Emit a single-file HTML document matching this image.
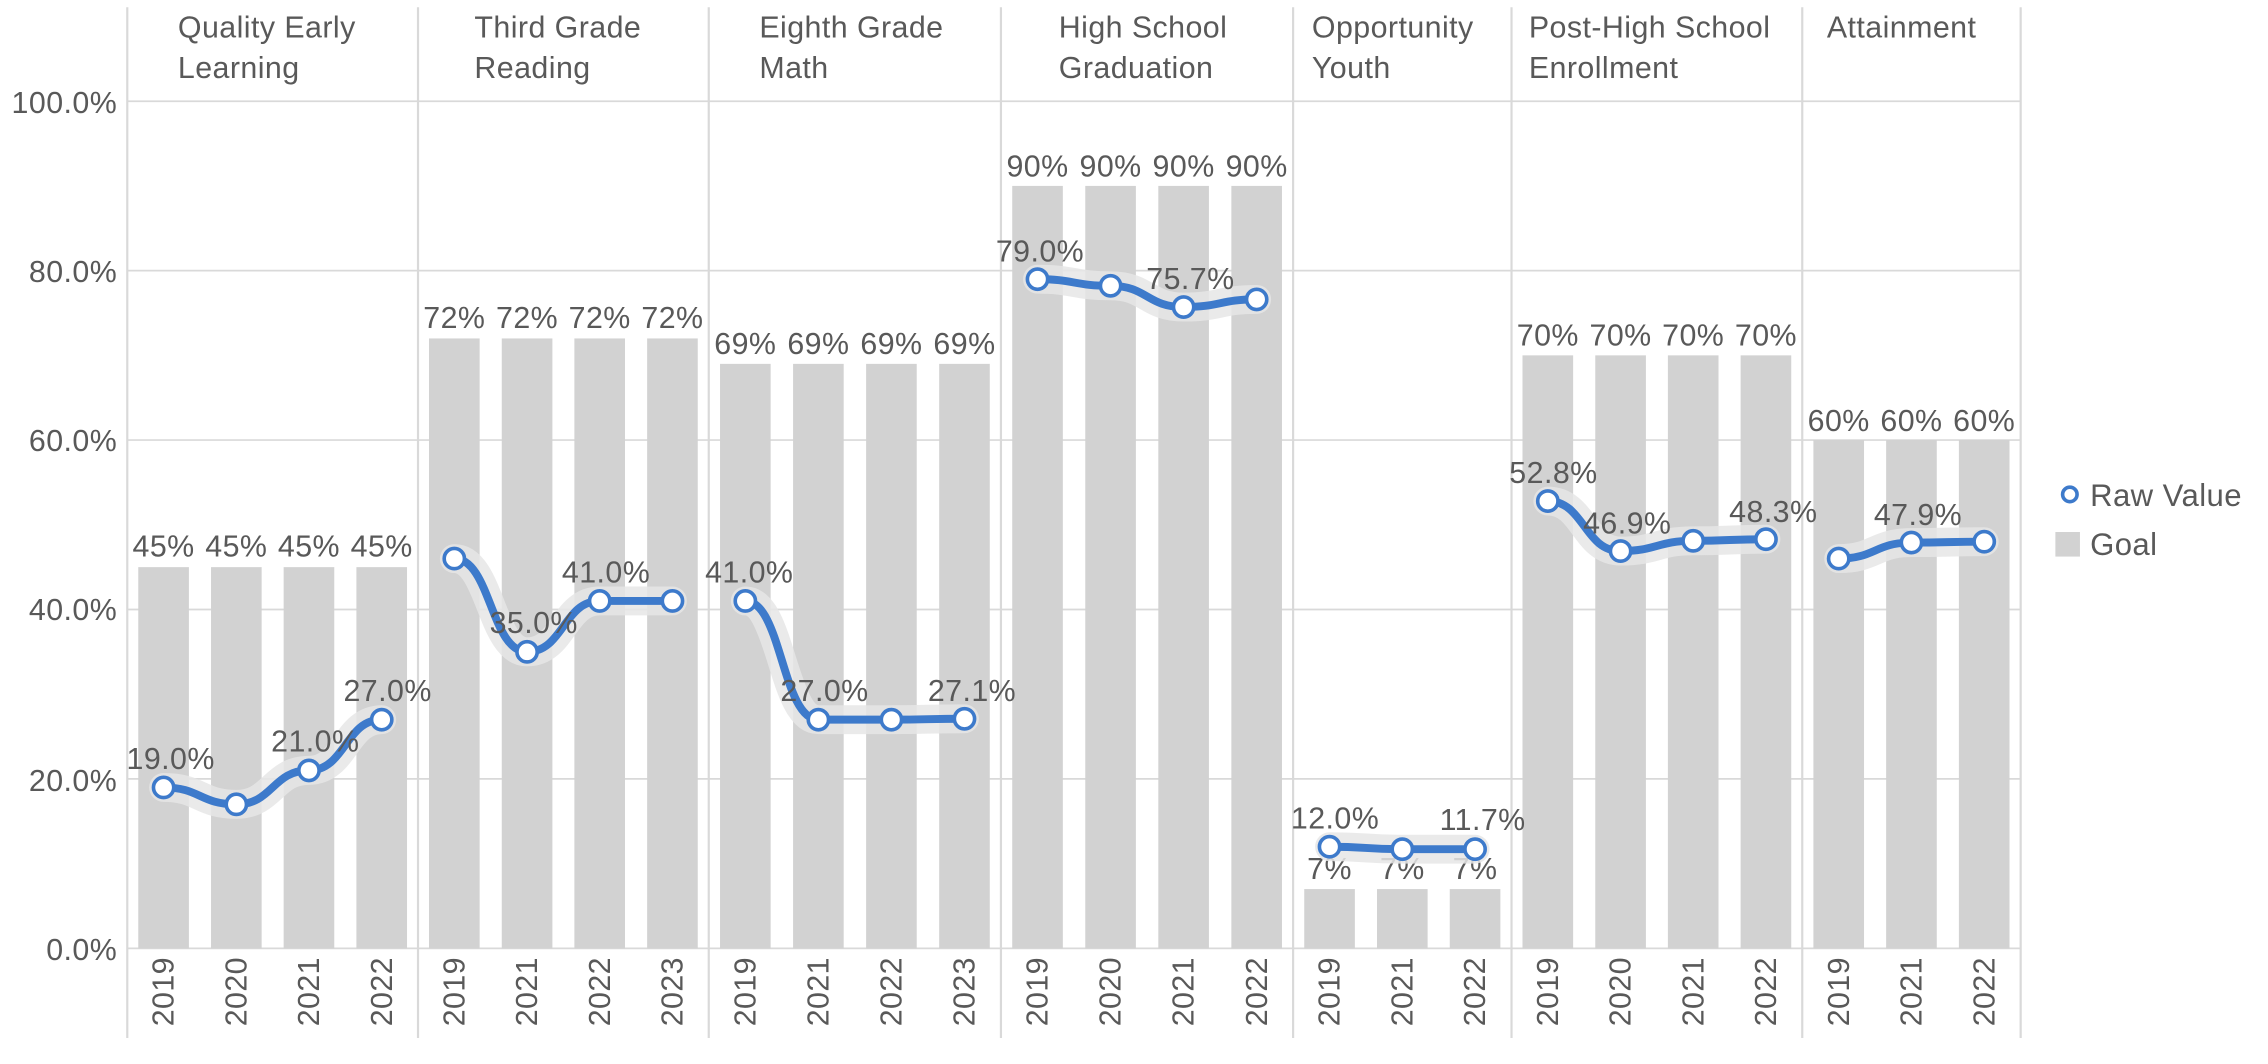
<!DOCTYPE html>
<html><head><meta charset="utf-8"><style>
html,body{margin:0;padding:0;background:#fff;width:2268px;height:1064px;overflow:hidden}
svg{display:block}
text{font-family:"Liberation Sans",sans-serif;fill:#595959;font-size:21px;letter-spacing:0.3px}
.b{fill:#d2d2d2}
.g{stroke:#d9d9d9;stroke-width:1.2}
.h{fill:none;stroke:#e6e6e6;stroke-opacity:.85;stroke-width:20;stroke-linecap:round}
.l{fill:none;stroke:#3d7acb;stroke-width:5.5}
.m{fill:#fff;stroke:#3d7acb;stroke-width:2.5}
.c{text-anchor:middle}
.e{text-anchor:end}
.t{font-size:21.5px}
</style></head><body>
<svg width="2268" height="1064" viewBox="0 0 1568 736" preserveAspectRatio="none" xmlns="http://www.w3.org/2000/svg">
<g class="g">
<line x1="88" x2="1397" y1="70" y2="70"/><line x1="88" x2="1397" y1="187.2" y2="187.2"/><line x1="88" x2="1397" y1="304.4" y2="304.4"/><line x1="88" x2="1397" y1="421.6" y2="421.6"/><line x1="88" x2="1397" y1="538.8" y2="538.8"/><line x1="88" x2="1397" y1="656" y2="656"/>
</g>
<g class="e">
<text x="81" y="78">100.0%</text><text x="81" y="195">80.0%</text><text x="81" y="312">60.0%</text><text x="81" y="429">40.0%</text><text x="81" y="547">20.0%</text><text x="81" y="664">0.0%</text>
</g>
<g class="t">
<text x="123" y="26">Quality Early</text><text x="123" y="54">Learning</text>
<text x="328" y="26">Third Grade</text><text x="328" y="54">Reading</text>
<text x="525" y="26">Eighth Grade</text><text x="525" y="54">Math</text>
<text x="732" y="26">High School</text><text x="732" y="54">Graduation</text>
<text x="907" y="26">Opportunity</text><text x="907" y="54">Youth</text>
<text x="1057" y="26">Post-High School</text><text x="1057" y="54">Enrollment</text>
<text x="1263" y="26">Attainment</text>
</g>
<g class="b">
<rect x="95.6" y="392.3" width="35" height="263.7"/><rect x="145.9" y="392.3" width="35" height="263.7"/><rect x="196.1" y="392.3" width="35" height="263.7"/><rect x="246.4" y="392.3" width="35" height="263.7"/>
<rect x="296.6" y="234.1" width="35" height="421.9"/><rect x="346.9" y="234.1" width="35" height="421.9"/><rect x="397.1" y="234.1" width="35" height="421.9"/><rect x="447.4" y="234.1" width="35" height="421.9"/>
<rect x="497.8" y="251.7" width="35" height="404.3"/><rect x="548.3" y="251.7" width="35" height="404.3"/><rect x="598.8" y="251.7" width="35" height="404.3"/><rect x="649.3" y="251.7" width="35" height="404.3"/>
<rect x="699.8" y="128.6" width="35" height="527.4"/><rect x="750.3" y="128.6" width="35" height="527.4"/><rect x="800.8" y="128.6" width="35" height="527.4"/><rect x="851.3" y="128.6" width="35" height="527.4"/>
<rect x="901.7" y="615" width="35" height="41"/><rect x="952" y="615" width="35" height="41"/><rect x="1002.3" y="615" width="35" height="41"/>
<rect x="1052.6" y="245.8" width="35" height="410.2"/><rect x="1102.9" y="245.8" width="35" height="410.2"/><rect x="1153.1" y="245.8" width="35" height="410.2"/><rect x="1203.4" y="245.8" width="35" height="410.2"/>
<rect x="1253.7" y="304.4" width="35" height="351.6"/><rect x="1304" y="304.4" width="35" height="351.6"/><rect x="1354.3" y="304.4" width="35" height="351.6"/>
</g>
<g class="c">
<text x="113.1" y="385">45%</text><text x="163.4" y="385">45%</text><text x="213.6" y="385">45%</text><text x="263.9" y="385">45%</text>
<text x="314.1" y="227">72%</text><text x="364.4" y="227">72%</text><text x="414.6" y="227">72%</text><text x="464.9" y="227">72%</text>
<text x="515.3" y="245">69%</text><text x="565.8" y="245">69%</text><text x="616.3" y="245">69%</text><text x="666.8" y="245">69%</text>
<text x="717.3" y="122">90%</text><text x="767.8" y="122">90%</text><text x="818.3" y="122">90%</text><text x="868.8" y="122">90%</text>
<text x="919.2" y="608">7%</text><text x="969.5" y="608">7%</text><text x="1019.8" y="608">7%</text>
<text x="1070.1" y="239">70%</text><text x="1120.4" y="239">70%</text><text x="1170.6" y="239">70%</text><text x="1220.9" y="239">70%</text>
<text x="1271.2" y="298">60%</text><text x="1321.5" y="298">60%</text><text x="1371.8" y="298">60%</text>
</g>
<g class="e">
<text transform="translate(120,662) rotate(-90)">2019</text><text transform="translate(170.4,662) rotate(-90)">2020</text><text transform="translate(220.6,662) rotate(-90)">2021</text><text transform="translate(270.9,662) rotate(-90)">2022</text>
<text transform="translate(321.1,662) rotate(-90)">2019</text><text transform="translate(371.4,662) rotate(-90)">2021</text><text transform="translate(421.6,662) rotate(-90)">2022</text><text transform="translate(471.9,662) rotate(-90)">2023</text>
<text transform="translate(522.3,662) rotate(-90)">2019</text><text transform="translate(572.8,662) rotate(-90)">2021</text><text transform="translate(623.3,662) rotate(-90)">2022</text><text transform="translate(673.8,662) rotate(-90)">2023</text>
<text transform="translate(724.3,662) rotate(-90)">2019</text><text transform="translate(774.8,662) rotate(-90)">2020</text><text transform="translate(825.3,662) rotate(-90)">2021</text><text transform="translate(875.8,662) rotate(-90)">2022</text>
<text transform="translate(926.2,662) rotate(-90)">2019</text><text transform="translate(976.5,662) rotate(-90)">2021</text><text transform="translate(1026.8,662) rotate(-90)">2022</text>
<text transform="translate(1077.1,662) rotate(-90)">2019</text><text transform="translate(1127.4,662) rotate(-90)">2020</text><text transform="translate(1177.6,662) rotate(-90)">2021</text><text transform="translate(1227.9,662) rotate(-90)">2022</text>
<text transform="translate(1278.2,662) rotate(-90)">2019</text><text transform="translate(1328.5,662) rotate(-90)">2021</text><text transform="translate(1378.8,662) rotate(-90)">2022</text>
</g>
<g class="g" style="stroke-width:1.5">
<line x1="88" x2="88" y1="5" y2="718"/><line x1="289" x2="289" y1="5" y2="718"/><line x1="490" x2="490" y1="5" y2="718"/><line x1="692" x2="692" y1="5" y2="718"/><line x1="894" x2="894" y1="5" y2="718"/><line x1="1045" x2="1045" y1="5" y2="718"/><line x1="1246" x2="1246" y1="5" y2="718"/><line x1="1397" x2="1397" y1="5" y2="718"/>
</g>
<g class="h">
<path d="M113.1,544.7 C138.2,544.7 138.3,556.4 163.4,556.4 C188.5,556.4 188.5,532.9 213.6,532.9 C238.7,532.9 238.8,497.8 263.9,497.8"/>
<path d="M314.1,386.4 C339.2,386.4 339.3,450.9 364.4,450.9 C389.5,450.9 389.5,415.7 414.6,415.7 C439.7,415.7 439.8,415.7 464.9,415.7"/>
<path d="M515.3,415.7 C540.5,415.7 540.6,497.8 565.8,497.8 C591,497.8 591.1,497.8 616.3,497.8 C641.5,497.8 641.6,497.2 666.8,497.2"/>
<path d="M717.3,193.1 C742.5,193.1 742.6,197.7 767.8,197.7 C793,197.7 793.1,212.4 818.3,212.4 C843.5,212.4 843.6,207.1 868.8,207.1"/>
<path d="M919.2,585.7 C944.3,585.7 944.4,587.4 969.5,587.4 C994.6,587.4 994.7,587.4 1019.8,587.4"/>
<path d="M1070.1,346.6 C1095.2,346.6 1095.3,381.2 1120.4,381.2 C1145.5,381.2 1145.5,374.1 1170.6,374.1 C1195.7,374.1 1195.8,373 1220.9,373"/>
<path d="M1271.2,386.4 C1296.3,386.4 1296.4,375.3 1321.5,375.3 C1346.6,375.3 1346.7,374.7 1371.8,374.7"/>
</g>
<g class="l">
<path d="M113.1,544.7 C138.2,544.7 138.3,556.4 163.4,556.4 C188.5,556.4 188.5,532.9 213.6,532.9 C238.7,532.9 238.8,497.8 263.9,497.8"/>
<path d="M314.1,386.4 C339.2,386.4 339.3,450.9 364.4,450.9 C389.5,450.9 389.5,415.7 414.6,415.7 C439.7,415.7 439.8,415.7 464.9,415.7"/>
<path d="M515.3,415.7 C540.5,415.7 540.6,497.8 565.8,497.8 C591,497.8 591.1,497.8 616.3,497.8 C641.5,497.8 641.6,497.2 666.8,497.2"/>
<path d="M717.3,193.1 C742.5,193.1 742.6,197.7 767.8,197.7 C793,197.7 793.1,212.4 818.3,212.4 C843.5,212.4 843.6,207.1 868.8,207.1"/>
<path d="M919.2,585.7 C944.3,585.7 944.4,587.4 969.5,587.4 C994.6,587.4 994.7,587.4 1019.8,587.4"/>
<path d="M1070.1,346.6 C1095.2,346.6 1095.3,381.2 1120.4,381.2 C1145.5,381.2 1145.5,374.1 1170.6,374.1 C1195.7,374.1 1195.8,373 1220.9,373"/>
<path d="M1271.2,386.4 C1296.3,386.4 1296.4,375.3 1321.5,375.3 C1346.6,375.3 1346.7,374.7 1371.8,374.7"/>
</g>
<g class="m">
<circle cx="113.1" cy="544.7" r="7"/><circle cx="163.4" cy="556.4" r="7"/><circle cx="213.6" cy="532.9" r="7"/><circle cx="263.9" cy="497.8" r="7"/>
<circle cx="314.1" cy="386.4" r="7"/><circle cx="364.4" cy="450.9" r="7"/><circle cx="414.6" cy="415.7" r="7"/><circle cx="464.9" cy="415.7" r="7"/>
<circle cx="515.3" cy="415.7" r="7"/><circle cx="565.8" cy="497.8" r="7"/><circle cx="616.3" cy="497.8" r="7"/><circle cx="666.8" cy="497.2" r="7"/>
<circle cx="717.3" cy="193.1" r="7"/><circle cx="767.8" cy="197.7" r="7"/><circle cx="818.3" cy="212.4" r="7"/><circle cx="868.8" cy="207.1" r="7"/>
<circle cx="919.2" cy="585.7" r="7"/><circle cx="969.5" cy="587.4" r="7"/><circle cx="1019.8" cy="587.4" r="7"/>
<circle cx="1070.1" cy="346.6" r="7"/><circle cx="1120.4" cy="381.2" r="7"/><circle cx="1170.6" cy="374.1" r="7"/><circle cx="1220.9" cy="373" r="7"/>
<circle cx="1271.2" cy="386.4" r="7"/><circle cx="1321.5" cy="375.3" r="7"/><circle cx="1371.8" cy="374.7" r="7"/>
</g>
<g class="c">
<text x="118" y="532">19.0%</text><text x="218" y="520">21.0%</text><text x="268" y="485">27.0%</text>
<text x="369" y="438">35.0%</text><text x="419" y="403">41.0%</text>
<text x="518" y="403">41.0%</text><text x="570" y="485">27.0%</text><text x="672" y="485">27.1%</text>
<text x="719" y="181">79.0%</text><text x="823" y="200">75.7%</text>
<text x="923" y="573">12.0%</text><text x="1025" y="574">11.7%</text>
<text x="1074" y="334">52.8%</text><text x="1125" y="369">46.9%</text><text x="1226" y="361">48.3%</text>
<text x="1326" y="363">47.9%</text>
</g>
<circle cx="1431" cy="342" r="5" class="m"/><text x="1445" y="350" class="t">Raw Value</text>
<rect x="1421" y="368" width="17" height="17" class="b"/><text x="1445" y="384" class="t">Goal</text>
</svg>
</body></html>
